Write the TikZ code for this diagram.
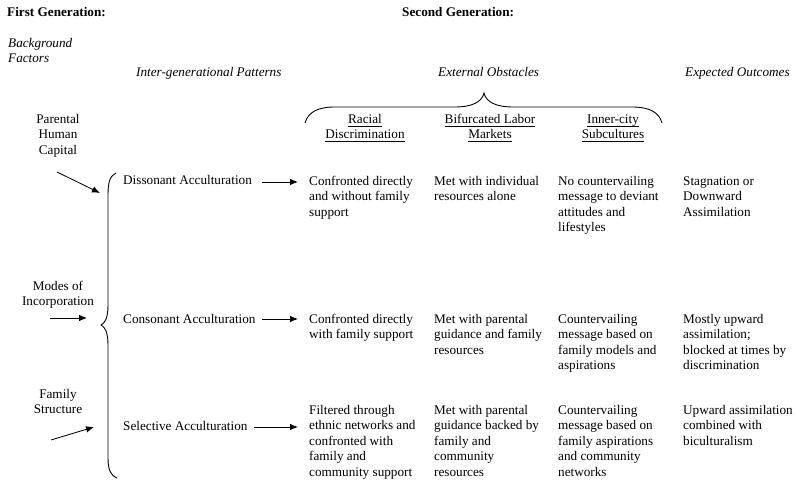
\documentclass[tikz,border=0pt]{standalone}
\usepackage{fontspec}
\setmainfont{Liberation Serif}
\usetikzlibrary{arrows.meta}
\newcommand\fsz{\fontsize{13.2}{15.5}\selectfont}
\newcommand\myul[1]{\setbox0\hbox{#1}\rlap{\rule[-3.2pt]{\wd0}{0.7pt}}\box0}
\begin{document}
\begin{tikzpicture}[x=1pt,y=-1pt,
  every node/.style={inner sep=0pt, font=\fsz},
  lbl/.style={anchor=base west},
  blk/.style={anchor=north west, align=left},
  cblk/.style={anchor=north, align=center},
  arr/.style={-{Latex[length=8pt,width=6.5pt]}, line width=0.85pt},
  brc/.style={line width=0.9pt}]
\useasboundingbox (0,0) rectangle (800,486);
% titles
\node[lbl, font=\fsz\bfseries] (fg) at (7,17) {First Generation:};
\node[lbl, font=\fsz\bfseries] (sg) at (402,17) {Second Generation:};
\node[blk, font=\fsz\itshape] (bf) at (8,36.15) {\strut Background\\Factors};
\node[lbl, font=\fsz\itshape] (igp) at (136,77) {Inter-generational Patterns};
\node[lbl, font=\fsz\itshape] (eo) at (438,77) {External Obstacles};
\node[lbl, font=\fsz\itshape] (exo) at (685,77) {Expected Outcomes};
% obstacle headers
\node[cblk] (h1) at (365,112.15) {\strut\myul{Racial}\\\myul{Discrimination}};
\node[cblk] (h2) at (490,112.15) {\strut\myul{Bifurcated Labor}\\\myul{Markets}};
\node[cblk] (h3) at (613,112.15) {\strut\myul{Inner-city}\\\myul{Subcultures}};
% background factors
\node[cblk] (phc) at (58,112.15) {\strut Parental\\Human\\Capital};
\node[cblk] (moi) at (58,279.15) {\strut Modes of\\Incorporation};
\node[cblk] (fst) at (58,387.15) {\strut Family\\Structure};
% patterns
\node[lbl] (dis) at (123,185) {Dissonant Acculturation};
\node[lbl] (con) at (123,323) {Consonant Acculturation};
\node[lbl] (sel) at (123,430) {Selective Acculturation};
% row 1
\node[blk] (c11) at (309,174.15) {\strut Confronted directly\\and without family\\support};
\node[blk] (c12) at (434,174.15) {\strut Met with individual\\resources alone};
\node[blk] (c13) at (558,174.15) {\strut No countervailing\\message to deviant\\attitudes and\\lifestyles};
\node[blk] (c14) at (683,174.15) {\strut Stagnation or\\Downward\\Assimilation};
% row 2
\node[blk] (c21) at (309,312.15) {\strut Confronted directly\\with family support};
\node[blk] (c22) at (434,312.15) {\strut Met with parental\\guidance and family\\resources};
\node[blk] (c23) at (558,312.15) {\strut Countervailing\\message based on\\family models and\\aspirations};
\node[blk] (c24) at (683,312.15) {\strut Mostly upward\\assimilation;\\blocked at times by\\discrimination};
% row 3
\node[blk] (c31) at (309,403.15) {\strut Filtered through\\ethnic networks and\\confronted with\\family and\\community support};
\node[blk] (c32) at (434,403.15) {\strut Met with parental\\guidance backed by\\family and\\community\\resources};
\node[blk] (c33) at (558,403.15) {\strut Countervailing\\message based on\\family aspirations\\and community\\networks};
\node[blk] (c34) at (683,403.15) {\strut Upward assimilation\\combined with\\biculturalism};
% braces
\draw[brc] (305,123) .. controls (308,112) and (318,107) .. (335,107) -- (455,107)
  .. controls (472,107) and (482,102) .. (484,93)
  .. controls (486,102) and (496,107) .. (513,107) -- (632,107)
  .. controls (649,107) and (659,112) .. (662,123);
\draw[brc] (116,173) .. controls (110,176) and (108,182) .. (108,195) -- (108,305)
  .. controls (108,318) and (105,323) .. (101,325)
  .. controls (105,327) and (108,332) .. (108,345) -- (108,458)
  .. controls (108,470) and (111,476) .. (117,478);
% left arrows
\coordinate (l1s) at (57,172); \coordinate (l1e) at (100,193);
\coordinate (l2s) at (50,318); \coordinate (l2e) at (87,318);
\coordinate (l3s) at (51,440); \coordinate (l3e) at (94,427);
\draw[arr] (l1s) -- (l1e);
\draw[arr] (l2s) -- (l2e);
\draw[arr] (l3s) -- (l3e);
% right arrows
\coordinate (r1s) at (262,182);
\coordinate (r2s) at (262,319);
\coordinate (r3s) at (254,427);
\draw[arr] (r1s) -- ([xshift=-11pt]r1s -| c11.west);
\draw[arr] (r2s) -- ([xshift=-11pt]r2s -| c21.west);
\draw[arr] (r3s) -- ([xshift=-11pt]r3s -| c31.west);
\end{tikzpicture}
\end{document}
